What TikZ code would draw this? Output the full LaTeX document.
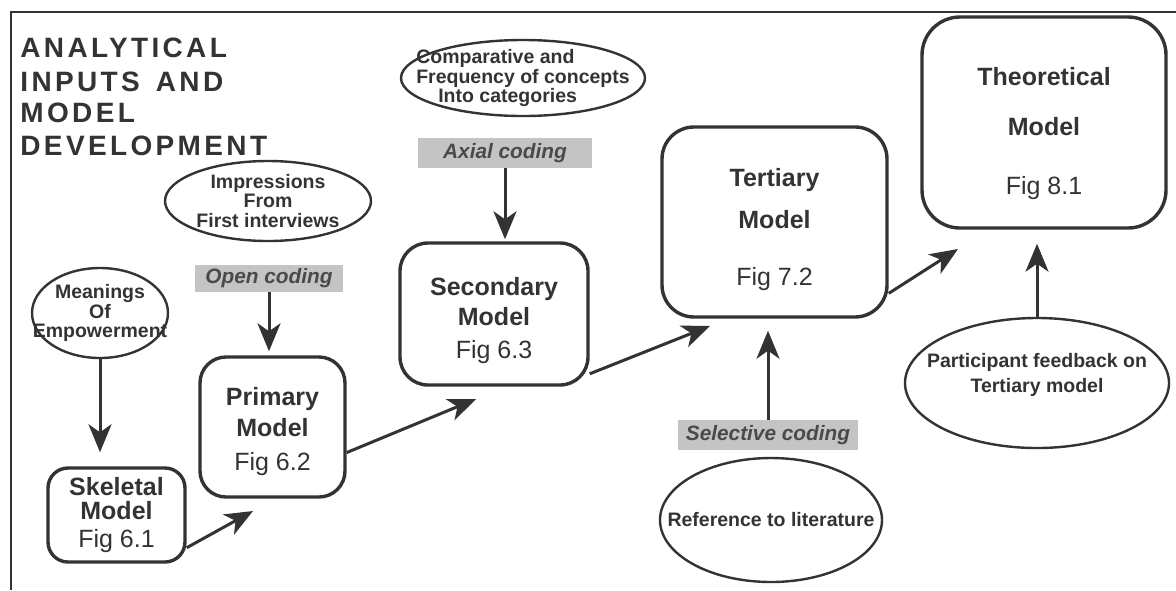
\documentclass[tikz,border=0pt]{standalone}
\usepackage{fontspec}
\setmainfont{Liberation Sans}
\newfontfamily\titlefont{Liberation Sans}[LetterSpace=12]
\usepackage{tikz}
\usetikzlibrary{shapes,arrows.meta,positioning}
\definecolor{ink}{HTML}{333333}
\definecolor{codefill}{HTML}{C4C4C4}
\definecolor{codetext}{HTML}{4A4A4A}
\tikzstyle{heading}=[anchor=base west, inner sep=0pt, text=ink, font=\titlefont\bfseries\fontsize{14}{16}\selectfont]
\tikzstyle{model}=[draw=ink, line width=1.7pt, text=ink, align=center, inner sep=0pt, font=\bfseries\fontsize{12.5}{15}\selectfont]
\tikzstyle{inputs}=[ellipse, draw=ink, line width=1.2pt, inner sep=0pt]
\tikzstyle{inputtext}=[text=ink, align=center, inner sep=0pt, font=\bfseries\fontsize{9.75}{9.9}\selectfont]
\tikzstyle{coding}=[fill=codefill, text=codetext, inner sep=0pt, font=\bfseries\itshape\fontsize{10.4}{12}\selectfont]
\tikzstyle{arrow}=[draw=ink, line width=1.5pt, -{Stealth[length=14pt,width=11.5pt,inset=4pt]}]

\begin{document}
\begin{tikzpicture}[x=0.5pt, y=-0.5pt]
\useasboundingbox (0,0) rectangle (1176,590);

% Frame
\draw[ink, line width=1pt] (11,590) -- (11,12) -- (1176,12);

% Title
\foreach \y/\words [count=\i] in {57/ANALYTICAL, 91/{INPUTS\hspace{8pt}AND}, 122/MODEL, 155/DEVELOPMENT}
    \node[heading] (title\i) at (20,\y) {\words};

% Models
\node[model, rounded corners=10pt, minimum width=68.5pt, minimum height=47pt] (skeletal) at (116.5,515)
    {Skeletal\\[-3pt]Model\\[-1pt]{\mdseries Fig 6.1}};
\node[model, rounded corners=13pt, minimum width=72.5pt, minimum height=70pt] (primary) at (272.5,427)
    {\rule{0pt}{14pt}Primary\\[0.5pt]Model\\[2pt]{\mdseries Fig 6.2}};
\node[model, rounded corners=14pt, minimum width=94pt, minimum height=71pt] (secondary) at (494,314)
    {\rule{0pt}{16pt}Secondary\\[0pt]Model\\[1.5pt]{\mdseries Fig 6.3}};
\node[model, rounded corners=16pt, minimum width=112.5pt, minimum height=95pt] (tertiary) at (774.5,222)
    {\rule{0pt}{17pt}Tertiary\\[6pt]Model\\[13.5pt]{\mdseries Fig 7.2}};
\node[model, rounded corners=19pt, minimum width=122pt, minimum height=105.5pt] (theoretical) at (1044,122.5)
    {\rule{0pt}{20pt}Theoretical\\[10pt]Model\\[14.5pt]{\mdseries Fig 8.1}};

% Analytical inputs
\node[inputs, minimum width=68pt, minimum height=45pt,
    label={[inputtext]center:Meanings\\Of\\Empowerment}] (meanings) at (100,313) {};
\node[inputs, minimum width=103pt, minimum height=40pt,
    label={[inputtext]center:Impressions\\From\\First interviews}] (impressions) at (268,201) {};
\node[inputs, minimum width=122pt, minimum height=38pt,
    label={[inputtext, align=left]center:Comparative and\\Frequency of concepts\\\hspace*{11pt}Into categories}] (comparative) at (523,78) {};
\node[inputs, minimum width=111pt, minimum height=62pt,
    label={[inputtext]center:Reference to literature}] (literature) at (771,520) {};
\node[inputs, minimum width=132pt, minimum height=65pt,
    label={[inputtext, yshift=4pt]center:Participant feedback on\\[3pt]Tertiary model}] (feedback) at (1037,383) {};

% Coding stages
\node[coding, minimum width=74pt, minimum height=13.5pt] (open) at (269,278.5) {Open coding};
\node[coding, minimum width=87pt, minimum height=15pt] (axial) at (505,153) {Axial coding};
\node[coding, minimum width=90pt, minimum height=15pt] (selective) at (768,435) {Selective coding};

% Inputs into the models
\draw[arrow, shorten >=7pt] (meanings.south) -- (meanings.south |- skeletal.north);
\draw[arrow, shorten >=2pt] (open.south) -- (open.south |- primary.north);
\draw[arrow, shorten >=1pt] (axial.south) -- (axial.south |- secondary.north);
\draw[arrow, shorten >=6pt] (selective.north) -- (selective.north |- tertiary.south);
\draw[arrow, shorten >=7pt] (feedback.north) -- (feedback.north |- theoretical.south);

% Model development
\coordinate (toprimary) at (253,511);
\coordinate (tosecondary) at (476,399);
\coordinate (totertiary) at (710,326);
\coordinate (totheoretical) at (958,249);
\draw[arrow] (skeletal.-25) -- (toprimary);
\draw[arrow] (primary.-19) -- (tosecondary);
\draw[arrow] (secondary.-32) -- (totertiary);
\draw[arrow] (tertiary.-32) -- (totheoretical);

\end{tikzpicture}
\end{document}
